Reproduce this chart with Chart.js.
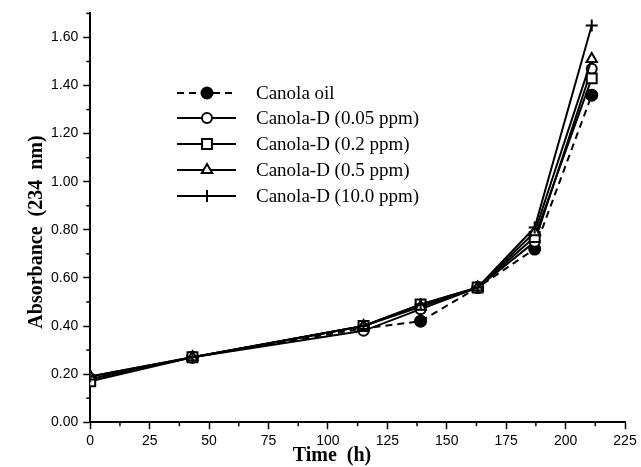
<!DOCTYPE html>
<html>
<head>
<meta charset="utf-8">
<script src="https://cdn.jsdelivr.net/npm/chart.js@4/dist/chart.umd.min.js"></script>
<style>
  html, body { margin: 0; padding: 0; background: #fff; }
  #wrap { width: 641px; height: 467px; }
</style>
</head>
<body>
<div id="wrap"><canvas id="chart" width="641" height="467"></canvas></div>
<script>
// time points (h)
const hours = [0, 43, 115, 139, 163, 187, 211];

// absorbance at 234 nm
const canolaOil   = [0.18, 0.27, 0.39, 0.42, 0.56, 0.72, 1.36];
const canolaD005  = [0.18, 0.27, 0.38, 0.47, 0.56, 0.75, 1.47];
const canolaD02   = [0.17, 0.27, 0.40, 0.49, 0.56, 0.77, 1.43];
const canolaD05   = [0.19, 0.27, 0.40, 0.48, 0.56, 0.79, 1.51];
const canolaD10   = [0.19, 0.27, 0.40, 0.49, 0.56, 0.81, 1.65];

const seriesLabels = ['Canola oil', 'Canola-D (0.05 ppm)', 'Canola-D (0.2 ppm)', 'Canola-D (0.5 ppm)', 'Canola-D (10.0 ppm)'];
const seriesValues = [canolaOil, canolaD005, canolaD02, canolaD05, canolaD10];

const markerStyles = [
  { pointStyle: 'circle',   radius: 5.5, fill: '#000', dash: [7, 5] },
  { pointStyle: 'circle',   radius: 5,   fill: '#fff', dash: [] },
  { pointStyle: 'rect',     radius: 7,   fill: '#fff', dash: [] },
  { pointStyle: 'triangle', radius: 6,   fill: '#fff', dash: [] },
  { pointStyle: 'cross',    radius: 6,   fill: '#000', dash: [] }
];

const datasets = seriesValues.map((vals, i) => ({
  label: seriesLabels[i],
  data: hours.map((h, j) => ({ x: h, y: vals[j] })),
  borderColor: '#000',
  borderWidth: 2,
  borderDash: markerStyles[i].dash,
  pointStyle: markerStyles[i].pointStyle,
  pointRadius: markerStyles[i].radius,
  pointBackgroundColor: markerStyles[i].fill,
  pointBorderColor: '#000',
  pointBorderWidth: 2,
  tension: 0,
  fill: false
})).reverse();

// minor ticks + axis titles + legend
const decorations = {
  id: 'decorations',
  afterDraw(chart) {
    const ctx = chart.ctx;
    const area = chart.chartArea;
    const xs = chart.scales.x, ys = chart.scales.y;
    ctx.save();
    ctx.strokeStyle = '#000';
    ctx.lineWidth = 1.5;
    // minor ticks
    for (let v = 12.5; v < 225; v += 25) {
      const px = xs.getPixelForValue(v);
      ctx.beginPath(); ctx.moveTo(px, area.bottom); ctx.lineTo(px, area.bottom + 4); ctx.stroke();
    }
    for (let k = 1; k <= 17; k += 2) {
      const py = ys.getPixelForValue(k / 10);
      ctx.beginPath(); ctx.moveTo(area.left, py); ctx.lineTo(area.left - 4, py); ctx.stroke();
    }
    // axis titles
    ctx.fillStyle = '#000';
    ctx.font = 'bold 20px "Liberation Serif", "Times New Roman", serif';
    ctx.textAlign = 'center';
    ctx.textBaseline = 'middle';
    ctx.fillText('Time  (h)', area.left + 0.452 * (area.right - area.left), 456);
    ctx.save();
    ctx.translate(37, 232);
    ctx.rotate(-Math.PI / 2);
    ctx.fillText('Absorbance  (234  nm)', 0, 0);
    ctx.restore();
    // legend
    const rows = [93, 118, 144, 170, 196];
    ctx.font = '19px "Liberation Serif", "Times New Roman", serif';
    ctx.textAlign = 'left';
    seriesLabels.forEach((lab, i) => {
      const y = rows[i];
      ctx.setLineDash(markerStyles[i].dash);
      ctx.lineWidth = 2;
      ctx.beginPath(); ctx.moveTo(177, y); ctx.lineTo(236, y); ctx.stroke();
      ctx.setLineDash([]);
      ctx.fillStyle = markerStyles[i].fill;
      Chart.helpers.drawPoint(ctx, {
        pointStyle: markerStyles[i].pointStyle,
        radius: markerStyles[i].radius,
        borderWidth: 2,
        rotation: 0
      }, 207, y);
      ctx.fillStyle = '#000';
      ctx.fillText(lab, 256, y + 1);
    });
    ctx.restore();
  }
};

new Chart(document.getElementById('chart').getContext('2d'), {
  type: 'line',
  data: { datasets: datasets },
  options: {
    responsive: false,
    animation: false,
    layout: { padding: { left: 46, right: 16, top: 12, bottom: 13 } },
    plugins: {
      legend: { display: false },
      tooltip: { enabled: false }
    },
    scales: {
      x: {
        type: 'linear',
        min: 0,
        max: 225,
        border: { display: true, color: '#000', width: 2 },
        grid: { display: true, drawOnChartArea: false, tickLength: 7, tickColor: '#000', tickWidth: 1.5 },
        ticks: {
          stepSize: 25,
          color: '#000',
          padding: 4,
          maxRotation: 0,
          font: { family: '"Liberation Sans", Arial, sans-serif', size: 14 }
        }
      },
      y: {
        type: 'linear',
        min: 0,
        max: 1.7,
        border: { display: true, color: '#000', width: 2 },
        grid: { display: true, drawOnChartArea: false, tickLength: 7, tickColor: '#000', tickWidth: 1.5 },
        afterBuildTicks(scale) {
          scale.ticks = [0, 0.2, 0.4, 0.6, 0.8, 1.0, 1.2, 1.4, 1.6].map(v => ({ value: v }));
        },
        ticks: {
          color: '#000',
          padding: 5,
          font: { family: '"Liberation Sans", Arial, sans-serif', size: 14 },
          callback: v => v.toFixed(2)
        }
      }
    }
  },
  plugins: [decorations]
});
</script>
</body>
</html>
